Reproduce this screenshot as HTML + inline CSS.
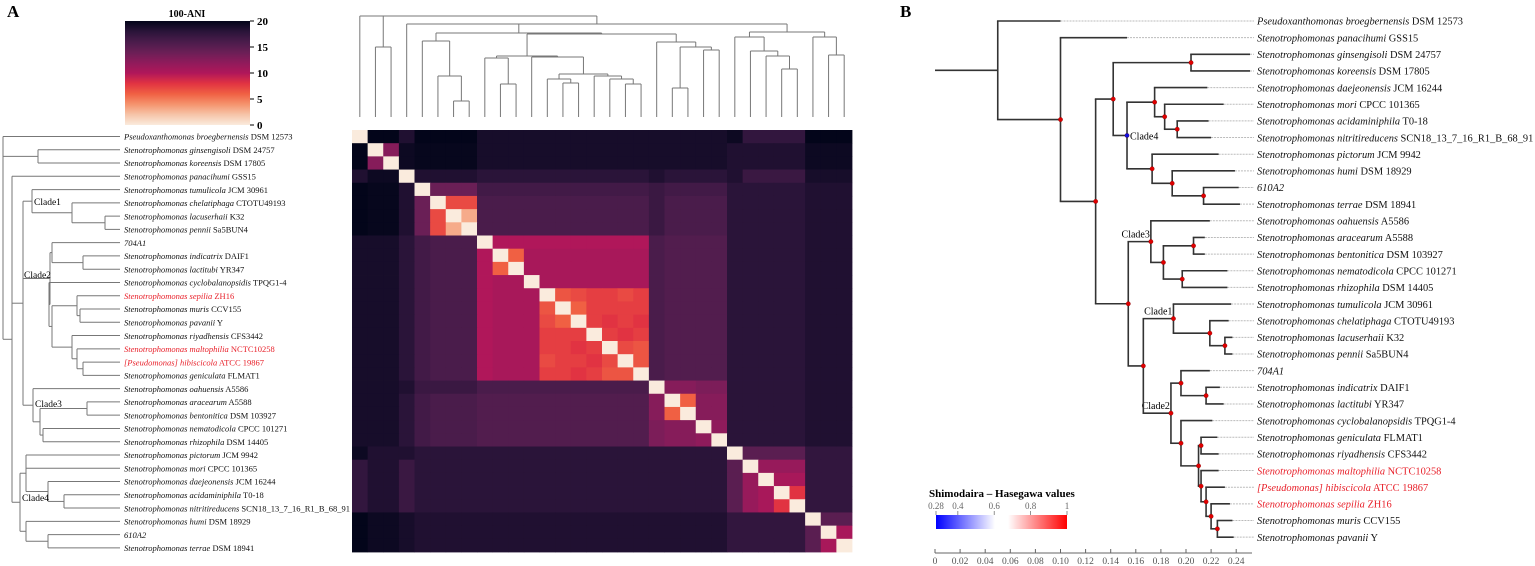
<!DOCTYPE html>
<html><head><meta charset="utf-8"><style>
body{margin:0;background:#fff}
svg{display:block;font-family:"Liberation Serif",serif}
</style></head><body>
<svg id="fig" width="1535" height="566" viewBox="0 0 1535 566" xmlns="http://www.w3.org/2000/svg">
<defs>
<linearGradient id="cbar" x1="0" y1="1" x2="0" y2="0">
<stop offset="0" stop-color="#faebdd"/><stop offset="0.1" stop-color="#f6c4a8"/><stop offset="0.2" stop-color="#f5936d"/><stop offset="0.3" stop-color="#f06043"/><stop offset="0.4" stop-color="#e13342"/><stop offset="0.5" stop-color="#b0175a"/><stop offset="0.6" stop-color="#8f1b5b"/><stop offset="0.7" stop-color="#6a1f56"/><stop offset="0.8" stop-color="#4a1c4b"/><stop offset="0.9" stop-color="#2a1439"/><stop offset="1" stop-color="#03051a"/>
</linearGradient>
<linearGradient id="shbar" x1="0" y1="0" x2="1" y2="0">
<stop offset="0" stop-color="#0000ff"/><stop offset="0.45" stop-color="#ffffff"/><stop offset="0.55" stop-color="#ffffff"/><stop offset="1" stop-color="#ff0000"/>
</linearGradient>
</defs>
<text x="7" y="17" font-size="17" font-weight="bold">A</text>
<text x="900" y="17" font-size="17" font-weight="bold">B</text>
<g>
<text x="187" y="17" font-size="10" font-weight="bold" text-anchor="middle">100-ANI</text>
<rect x="125" y="21" width="125" height="104" fill="url(#cbar)"/>
<g id="cbticks"></g>
</g>
<g id="heat"></g>
<g id="topTree"></g>
<g id="leftTree"></g>
<g id="leftLabels"></g>
<g id="treeB"></g>
<g id="labelsB"></g>
<g id="axisB"></g>
<g>
<text x="929" y="497" font-size="11" font-weight="bold">Shimodaira – Hasegawa values</text>
<rect x="936" y="515" width="131" height="14" fill="url(#shbar)"/>
<g id="shticks"></g>
</g>
</svg>
<script>
const NS="http://www.w3.org/2000/svg";
function mk(tag,attrs,parent){const e=document.createElementNS(NS,tag);for(const k in attrs)e.setAttribute(k,attrs[k]);parent.appendChild(e);return e;}

// ---------- data ----------
const cbTicks=[20,15,10,5,0];
const shTicks=["0.28","0.4","0.6","0.8","1"];
const shTickVals=[0.28,0.4,0.6,0.8,1];
const axisTicks=[0,0.02,0.04,0.06,0.08,0.10,0.12,0.14,0.16,0.18,0.20,0.22,0.24];
const axisTickLabels=["0","0.02","0.04","0.06","0.08","0.10","0.12","0.14","0.16","0.18","0.20","0.22","0.24"];

const speciesA=[
["Pseudoxanthomonas broegbernensis","DSM 12573",0],["Stenotrophomonas ginsengisoli","DSM 24757",0],["Stenotrophomonas koreensis","DSM 17805",0],["Stenotrophomonas panacihumi","GSS15",0],["Stenotrophomonas tumulicola","JCM 30961",0],["Stenotrophomonas chelatiphaga","CTOTU49193",0],["Stenotrophomonas lacuserhaii","K32",0],["Stenotrophomonas pennii","Sa5BUN4",0],["704A1","",0],["Stenotrophomonas indicatrix","DAIF1",0],["Stenotrophomonas lactitubi","YR347",0],["Stenotrophomonas cyclobalanopsidis","TPQG1-4",0],["Stenotrophomonas sepilia","ZH16",1],["Stenotrophomonas muris","CCV155",0],["Stenotrophomonas pavanii","Y",0],["Stenotrophomonas riyadhensis","CFS3442",0],["Stenotrophomonas maltophilia","NCTC10258",1],["[Pseudomonas] hibiscicola","ATCC 19867",1],["Stenotrophomonas geniculata","FLMAT1",0],["Stenotrophomonas oahuensis","A5586",0],["Stenotrophomonas aracearum","A5588",0],["Stenotrophomonas bentonitica","DSM 103927",0],["Stenotrophomonas nematodicola","CPCC 101271",0],["Stenotrophomonas rhizophila","DSM 14405",0],["Stenotrophomonas pictorum","JCM 9942",0],["Stenotrophomonas mori","CPCC 101365",0],["Stenotrophomonas daejeonensis","JCM 16244",0],["Stenotrophomonas acidaminiphila","T0-18",0],["Stenotrophomonas nitritireducens","SCN18_13_7_16_R1_B_68_91",0],["Stenotrophomonas humi","DSM 18929",0],["610A2","",0],["Stenotrophomonas terrae","DSM 18941",0]];

const speciesB=[
["Pseudoxanthomonas broegbernensis","DSM 12573",0],["Stenotrophomonas panacihumi","GSS15",0],["Stenotrophomonas ginsengisoli","DSM 24757",0],["Stenotrophomonas koreensis","DSM 17805",0],["Stenotrophomonas daejeonensis","JCM 16244",0],["Stenotrophomonas mori","CPCC 101365",0],["Stenotrophomonas acidaminiphila","T0-18",0],["Stenotrophomonas nitritireducens","SCN18_13_7_16_R1_B_68_91",0],["Stenotrophomonas pictorum","JCM 9942",0],["Stenotrophomonas humi","DSM 18929",0],["610A2","",0],["Stenotrophomonas terrae","DSM 18941",0],["Stenotrophomonas oahuensis","A5586",0],["Stenotrophomonas aracearum","A5588",0],["Stenotrophomonas bentonitica","DSM 103927",0],["Stenotrophomonas nematodicola","CPCC 101271",0],["Stenotrophomonas rhizophila","DSM 14405",0],["Stenotrophomonas tumulicola","JCM 30961",0],["Stenotrophomonas chelatiphaga","CTOTU49193",0],["Stenotrophomonas lacuserhaii","K32",0],["Stenotrophomonas pennii","Sa5BUN4",0],["704A1","",0],["Stenotrophomonas indicatrix","DAIF1",0],["Stenotrophomonas lactitubi","YR347",0],["Stenotrophomonas cyclobalanopsidis","TPQG1-4",0],["Stenotrophomonas geniculata","FLMAT1",0],["Stenotrophomonas riyadhensis","CFS3442",0],["Stenotrophomonas maltophilia","NCTC10258",1],["[Pseudomonas] hibiscicola","ATCC 19867",1],["Stenotrophomonas sepilia","ZH16",1],["Stenotrophomonas muris","CCV155",0],["Stenotrophomonas pavanii","Y",0]];

// 100-ANI matrix (rows/cols in left-tree order)
const ani=[
[0,20,20,18.5,20,20,20,20,19,19,19,19,19,19,19,19,19,19,19,19,19,19,19,19,19.5,17.5,17.5,17.5,17.5,20,20,20],
[20,0,12.5,19.5,19.8,19.8,19.8,19.8,19,19,19,19,19,19,19,19,19,19,19,19,19,19,19,19,18.5,18.5,18.5,18.5,18.5,19.5,19.5,19.5],
[20,12.5,0,19.5,19.8,19.8,19.8,19.8,19,19,19,19,19,19,19,19,19,19,19,19,19,19,19,19,18.5,18.5,18.5,18.5,18.5,19.5,19.5,19.5],
[18.5,19.5,19.5,0,18.5,18.5,18.5,18.5,18,18,18,18,18,18,18,18,18,18,18,18.5,18,18,18,18,18.5,17,17,17,17,19,19,19],
[20,19.8,19.8,18.5,0,14,14,14,16.5,16.5,16.5,16.5,16.5,16.5,16.5,16.5,16.5,16.5,16.5,17,16.5,16.5,16.5,16.5,18,18,18,18,18,18.5,18.5,18.5],
[20,19.8,19.8,18.5,14,0,7,7,16,16,16,16,16,16,16,16,16,16,16,17,16,16,16,16,18,18,18,18,18,18.5,18.5,18.5],
[20,19.8,19.8,18.5,14,7,0,3,16,16,16,16,16,16,16,16,16,16,16,17,16,16,16,16,18,18,18,18,18,18.5,18.5,18.5],
[20,19.8,19.8,18.5,14,7,3,0,16,16,16,16,16,16,16,16,16,16,16,17,16,16,16,16,18,18,18,18,18,18.5,18.5,18.5],
[19,19,19,18,16.5,16,16,16,0,10,10,10,10,10,10,10,10,10,10,16,15.5,15.5,15.5,15.5,18,18,18,18,18,18.5,18.5,18.5],
[19,19,19,18,16.5,16,16,16,10,0,6,10.5,10.5,10.5,10.5,10.5,10.5,10.5,10.5,16,15.5,15.5,15.5,15.5,18,18,18,18,18,18.5,18.5,18.5],
[19,19,19,18,16.5,16,16,16,10,6,0,10.5,10.5,10.5,10.5,10.5,10.5,10.5,10.5,16,15.5,15.5,15.5,15.5,18,18,18,18,18,18.5,18.5,18.5],
[19,19,19,18,16.5,16,16,16,10,10.5,10.5,0,10.5,10.5,10.5,10.5,10.5,10.5,10.5,16,15.5,15.5,15.5,15.5,18,18,18,18,18,18.5,18.5,18.5],
[19,19,19,18,16.5,16,16,16,10,10.5,10.5,10.5,0,6.5,7,7.5,7.5,7,7.5,16,15.5,15.5,15.5,15.5,18,18,18,18,18,18.5,18.5,18.5],
[19,19,19,18,16.5,16,16,16,10,10.5,10.5,10.5,6.5,0,6,7.5,7.5,7.5,7.5,16,15.5,15.5,15.5,15.5,18,18,18,18,18,18.5,18.5,18.5],
[19,19,19,18,16.5,16,16,16,10,10.5,10.5,10.5,7,6,0,7.5,8,7.5,8,16,15.5,15.5,15.5,15.5,18,18,18,18,18,18.5,18.5,18.5],
[19,19,19,18,16.5,16,16,16,10,10.5,10.5,10.5,7.5,7.5,7.5,0,7.5,8,7.5,16,15.5,15.5,15.5,15.5,18,18,18,18,18,18.5,18.5,18.5],
[19,19,19,18,16.5,16,16,16,10,10.5,10.5,10.5,7.5,7.5,8,7.5,0,7,6.5,16,15.5,15.5,15.5,15.5,18,18,18,18,18,18.5,18.5,18.5],
[19,19,19,18,16.5,16,16,16,10,10.5,10.5,10.5,7,7.5,7.5,8,7,0,6.5,16,15.5,15.5,15.5,15.5,18,18,18,18,18,18.5,18.5,18.5],
[19,19,19,18,16.5,16,16,16,10,10.5,10.5,10.5,7.5,7.5,8,7.5,6.5,6.5,0,16,15.5,15.5,15.5,15.5,18,18,18,18,18,18.5,18.5,18.5],
[19,19,19,18.5,17,17,17,17,16,16,16,16,16,16,16,16,16,16,16,0,12.5,12.5,13,13,18,18,18,18,18,18.5,18.5,18.5],
[19,19,19,18,16.5,16,16,16,15.5,15.5,15.5,15.5,15.5,15.5,15.5,15.5,15.5,15.5,15.5,12.5,0,6,12.5,12.5,18,18,18,18,18,18.5,18.5,18.5],
[19,19,19,18,16.5,16,16,16,15.5,15.5,15.5,15.5,15.5,15.5,15.5,15.5,15.5,15.5,15.5,12.5,6,0,12.5,12.5,18,18,18,18,18,18.5,18.5,18.5],
[19,19,19,18,16.5,16,16,16,15.5,15.5,15.5,15.5,15.5,15.5,15.5,15.5,15.5,15.5,15.5,13,12.5,12.5,0,12,18,18,18,18,18,18.5,18.5,18.5],
[19,19,19,18,16.5,16,16,16,15.5,15.5,15.5,15.5,15.5,15.5,15.5,15.5,15.5,15.5,15.5,13,12.5,12.5,12,0,18,18,18,18,18,18.5,18.5,18.5],
[19.5,18.5,18.5,18.5,18,18,18,18,18,18,18,18,18,18,18,18,18,18,18,18,18,18,18,18,0,15,15,15,15,17.5,17.5,17.5],
[17.5,18.5,18.5,17,18,18,18,18,18,18,18,18,18,18,18,18,18,18,18,18,18,18,18,18,15,0,11.5,11.5,11.5,17.5,17.5,17.5],
[17.5,18.5,18.5,17,18,18,18,18,18,18,18,18,18,18,18,18,18,18,18,18,18,18,18,18,15,11.5,0,10.5,10.5,17.5,17.5,17.5],
[17.5,18.5,18.5,17,18,18,18,18,18,18,18,18,18,18,18,18,18,18,18,18,18,18,18,18,15,11.5,10.5,0,8,17.5,17.5,17.5],
[17.5,18.5,18.5,17,18,18,18,18,18,18,18,18,18,18,18,18,18,18,18,18,18,18,18,18,15,11.5,10.5,8,0,17.5,17.5,17.5],
[20,19.5,19.5,19,18.5,18.5,18.5,18.5,18.5,18.5,18.5,18.5,18.5,18.5,18.5,18.5,18.5,18.5,18.5,18.5,18.5,18.5,18.5,18.5,17.5,17.5,17.5,17.5,17.5,0,15,15],
[20,19.5,19.5,19,18.5,18.5,18.5,18.5,18.5,18.5,18.5,18.5,18.5,18.5,18.5,18.5,18.5,18.5,18.5,18.5,18.5,18.5,18.5,18.5,17.5,17.5,17.5,17.5,17.5,15,0,10.5],
[20,19.5,19.5,19,18.5,18.5,18.5,18.5,18.5,18.5,18.5,18.5,18.5,18.5,18.5,18.5,18.5,18.5,18.5,18.5,18.5,18.5,18.5,18.5,17.5,17.5,17.5,17.5,17.5,15,10.5,0]];

// tree topologies (structure)
const topTreeSpec={h:16,c:[0,{h:47,c:[1,2]},{h:24,c:[3,{h:33,c:[{h:41,c:[4,{h:76,c:[5,{h:101,c:[6,7]}]}]},{h:34,c:[{h:56,c:[{h:58,c:[8,{h:84,c:[9,10]}]},{h:57,c:[11,{h:74,c:[{h:79,c:[12,{h:83,c:[13,14]}]},{h:76,c:[15,{h:79,c:[16,{h:84,c:[17,18]}]}]}]}]}]},{h:42,c:[19,{h:47,c:[{h:88,c:[20,21]},{h:50,c:[22,23]}]}]}]}]},{h:32,c:[{h:37,c:[24,{h:51,c:[25,{h:56,c:[26,{h:69,c:[27,28]}]}]}]},{h:37,c:[29,{h:55,c:[30,31]}]}]}]}]};

const leftTreeSpec={x:3,c:[0,{x:38,c:[1,2]},{x:12,c:[3,{x:23,c:[{x:32,c:[4,{x:72,c:[5,{x:105,c:[6,7]}]}]},{x:50,c:[{x:52,c:[8,{x:83,c:[9,10]}]},{x:49,c:[11,{x:52,c:[{x:77,c:[12,{x:80,c:[13,14]}]},{x:72,c:[15,{x:77,c:[16,{x:83,c:[17,18]}]}]}]}]}]},{x:33,c:[19,{x:40,c:[{x:87,c:[20,21]},{x:43,c:[22,23]}]}]}]},{x:20,c:[{x:26,c:[24,25,{x:48,c:[26,{x:64,c:[27,28]}]}]},{x:26,c:[29,{x:48,c:[30,31]}]}]}]}]};

// branch lengths (substitutions/site) for panel B
const bNodeDepth={root:0.05,n1:0.10,n2:0.128,n3:0.142,gk:0.204,c4:0.153,a1:0.175,a2:0.183,a3:0.193,p1:0.173,p2:0.189,p3:0.214,n4:0.154,c3:0.172,b1:0.182,b2:0.206,b3:0.197,n6:0.166,c1:0.190,d1:0.219,d2:0.231,c2:0.188,e1:0.196,e2:0.216,f1:0.196,f2:0.210,f3:0.212,f4:0.212,f5:0.216,f6:0.220,f7:0.225};
const bLeafDepth=[0.10,0.153,0.251,0.251,0.217,0.230,0.218,0.220,0.226,0.239,0.242,0.243,0.219,0.215,0.215,0.233,0.233,0.236,0.234,0.237,0.237,0.219,0.227,0.230,0.221,0.225,0.226,0.226,0.231,0.235,0.237,0.238];
const treeBSpec={d:"root",c:[0,{d:"n1",c:[1,{d:"n2",c:[{d:"n3",c:[{d:"gk",c:[2,3]},{d:"c4",blue:1,label:"Clade4",c:[{d:"a1",c:[4,{d:"a2",c:[5,{d:"a3",c:[6,7]}]}]},{d:"p1",c:[8,{d:"p2",c:[9,{d:"p3",c:[10,11]}]}]}]}]},{d:"n4",c:[{d:"c3",label:"Clade3",c:[12,{d:"b1",c:[{d:"b2",c:[13,14]},{d:"b3",c:[15,16]}]}]},{d:"n6",c:[{d:"c1",label:"Clade1",c:[17,{d:"d1",c:[18,{d:"d2",c:[19,20]}]}]},{d:"c2",label:"Clade2",c:[{d:"e1",c:[21,{d:"e2",c:[22,23]}]},{d:"f1",c:[24,{d:"f2",c:[{d:"f3",c:[25,26]},{d:"f4",c:[27,{d:"f5",c:[28,{d:"f6",c:[29,{d:"f7",c:[30,31]}]}]}]}]}]}]}]}]}]}]}]};

// ---------- colormap ----------
const stops=[[0,[3,5,26]],[0.1,[42,20,57]],[0.2,[74,28,75]],[0.3,[106,31,86]],[0.4,[143,27,91]],[0.5,[176,23,90]],[0.6,[225,51,66]],[0.7,[240,96,67]],[0.8,[245,147,109]],[0.9,[246,196,168]],[1,[250,235,221]]];
function rocket(v){let t=1-Math.max(0,Math.min(20,v))/20;for(let i=0;i<stops.length-1;i++){const [a,ca]=stops[i],[b,cb]=stops[i+1];if(t<=b){const f=(t-a)/(b-a);return "rgb("+ca.map((c,k)=>Math.round(c+(cb[k]-c)*f)).join(",")+")";}}return "rgb(250,235,221)";}

// ---------- colorbar ticks ----------
const cbY=v=>125-v/20*104;
const cbG=document.getElementById('cbticks');
cbTicks.forEach(v=>{
 const l=mk('line',{x1:250,x2:254,y1:cbY(v),y2:cbY(v),stroke:'#000','stroke-width':1},cbG);
 
 
 const t=mk('text',{x:257,y:cbY(v)+4,'font-size':11,'font-weight':'bold'},cbG);t.textContent=v;
 
 
});

// ---------- heatmap ----------
const N=32,hx0=352,hy0=130,cw=500/32,ch=422/32;
const colX=i=>hx0+i*cw, rowY=i=>hy0+i*ch;
const heat=document.getElementById('heat');
for(let r=0;r<N;r++)for(let c=0;c<N;c++){
 const e=mk('rect',{x:colX(c).toFixed(2),y:rowY(r).toFixed(2),width:(cw+0.4).toFixed(2),height:(ch+0.4).toFixed(2),fill:rocket(ani[r][c])},heat);
 
 
}

// ---------- top dendrogram ----------
const topG=document.getElementById('topTree');
const leafCX=i=>colX(i)+cw/2, topBase=117;
function drawTop(n){
 if(typeof n==='number')return {x:leafCX(n),h:topBase};
 const ch_=n.c.map(drawTop);
 const xs=ch_.map(o=>o.x);
 const hl=mk('line',{x1:Math.min(...xs),x2:Math.max(...xs),y1:n.h,y2:n.h,stroke:'#777','stroke-width':1},topG);
 
 
 ch_.forEach(o=>{const v=mk('line',{x1:o.x,x2:o.x,y1:n.h,y2:o.h,stroke:'#777','stroke-width':1},topG);
  
  });
 return {x:(Math.min(...xs)+Math.max(...xs))/2,h:n.h};
}
drawTop(topTreeSpec);

// ---------- left tree A ----------
const leftG=document.getElementById('leftTree');
const leafAY=i=>136.5+i*13.27, leafAEnd=120;
function drawLeft(n){
 if(typeof n==='number')return {x:leafAEnd,y:leafAY(n)};
 const ch_=n.c.map(drawLeft);
 const ys=ch_.map(o=>o.y);
 const v=mk('line',{x1:n.x,x2:n.x,y1:Math.min(...ys),y2:Math.max(...ys),stroke:'#777','stroke-width':1},leftG);
 
 
 ch_.forEach(o=>{const h=mk('line',{x1:n.x,x2:o.x,y1:o.y,y2:o.y,stroke:'#777','stroke-width':1},leftG);
  
  });
 return {x:n.x,y:(Math.min(...ys)+Math.max(...ys))/2};
}
drawLeft(leftTreeSpec);
const llG=document.getElementById('leftLabels');
function addLabel(g,sp,x,y,size,name){
 const t=mk('text',{x:x,y:y,'font-size':size,fill:sp[2]?'#e8202a':'#111'},g);
 
 
 const a=mk('tspan',{'font-style':'italic'},t);a.textContent=sp[0];
 if(sp[1]){const b=mk('tspan',{},t);b.textContent=' '+sp[1];}
}
speciesA.forEach((sp,i)=>addLabel(llG,sp,124,leafAY(i)+3.2,8.5,'species-label-a'));
[["Clade1",34,205],["Clade2",24,278],["Clade3",35,407],["Clade4",22,501]].forEach(c=>{
 const t=mk('text',{x:c[1],y:c[2],'font-size':9.5},llG);t.textContent=c[0];
 
 
});

// ---------- tree B ----------
const bx=d=>935+1255*d;
const leafBY=i=>21+i*16.65;
const tb=document.getElementById('treeB');
const dots=[];
function drawB(n){
 if(typeof n==='number'){
  const x=bx(bLeafDepth[n]),y=leafBY(n);
  const g=mk('line',{x1:x,x2:1254,y1:y,y2:y,stroke:'#bbb','stroke-width':1,'stroke-dasharray':'2,1'},tb);
  
  
  return {x:x,y:y};
 }
 const x=bx(bNodeDepth[n.d]);
 const ch_=n.c.map(drawB);
 const ys=ch_.map(o=>o.y);
 const v=mk('line',{x1:x,x2:x,y1:Math.min(...ys),y2:Math.max(...ys),stroke:'#333','stroke-width':1.6},tb);
 
 
 ch_.forEach(o=>{const h=mk('line',{x1:x-0.8,x2:o.x,y1:o.y,y2:o.y,stroke:'#333','stroke-width':1.6},tb);
  
  });
 const y=(Math.min(...ys)+Math.max(...ys))/2;
 if(n.d!=='root')dots.push([x,y,n.blue]);
 if(n.label){
  const t=mk('text',{x:n.blue?x+3:x-1,y:n.blue?y+4:y-4,'font-size':10,'text-anchor':n.blue?'start':'end'},tb);t.textContent=n.label;
  
  
 }
 return {x:x,y:y};
}
const rb=drawB(treeBSpec);
const stub=mk('line',{x1:935,x2:rb.x,y1:rb.y,y2:rb.y,stroke:'#333','stroke-width':1.6},tb);


dots.forEach(d=>{const c=mk('circle',{cx:d[0],cy:d[1],r:2.2,fill:d[2]?'#1010e0':'#e00000',stroke:'#600','stroke-width':0.3},tb);
 
 });
const lbG=document.getElementById('labelsB');
speciesB.forEach((sp,i)=>addLabel(lbG,sp,1257,leafBY(i)+3.7,10.4,'species-label-b'));

// axis B
const ax=document.getElementById('axisB');
const al=mk('line',{x1:935,x2:1252,y1:553,y2:553,stroke:'#666','stroke-width':1},ax);


axisTicks.forEach((v,i)=>{
 const l=mk('line',{x1:bx(v),x2:bx(v),y1:553,y2:549,stroke:'#666','stroke-width':1},ax);
 
 
 const t=mk('text',{x:bx(v),y:564,'font-size':9.5,fill:'#555','text-anchor':'middle'},ax);t.textContent=axisTickLabels[i];
 
 
});
// SH legend ticks
const shx=v=>936+(v-0.28)/(1-0.28)*131;
const shG=document.getElementById('shticks');
shTickVals.forEach((v,i)=>{
 const l=mk('line',{x1:shx(v),x2:shx(v),y1:511,y2:515,stroke:'#777','stroke-width':0.8},shG);
 
 
 const t=mk('text',{x:shx(v),y:509,'font-size':9,fill:'#666','text-anchor':'middle'},shG);t.textContent=shTicks[i];
 
 
});
</script>
</body></html>
